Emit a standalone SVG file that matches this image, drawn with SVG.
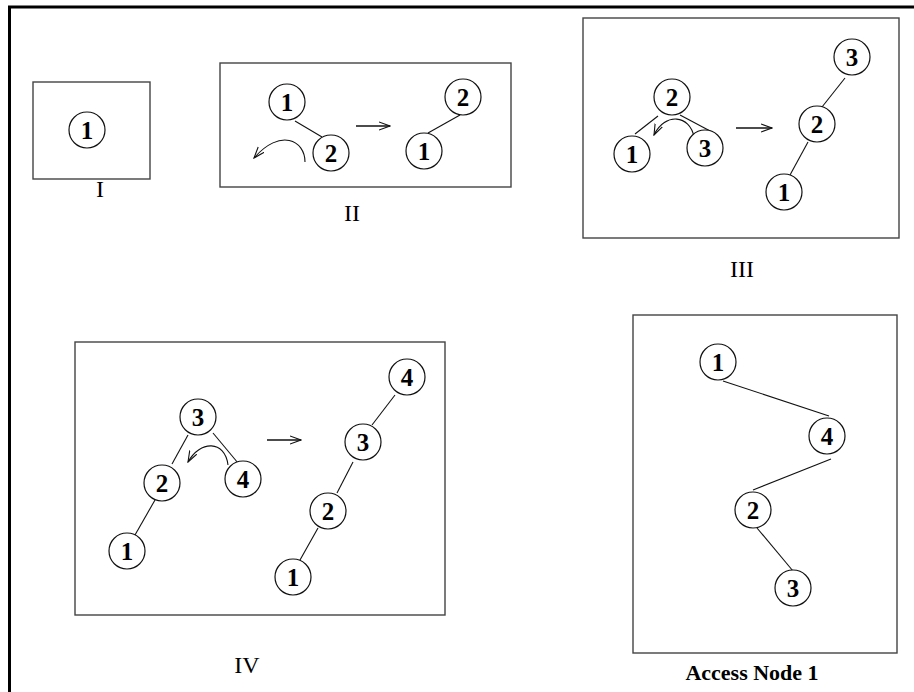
<svg xmlns="http://www.w3.org/2000/svg" width="914" height="692" viewBox="0 0 914 692">
  <style>
    .frame { fill: none; stroke: #000; stroke-width: 3; }
    .panel { fill: none; stroke: #444; stroke-width: 1.4; }
    .node circle { fill: #fff; stroke: #111; stroke-width: 1.2; }
    .node text { font-family: "Liberation Serif", "Times New Roman", serif; font-weight: bold; font-size: 25px; text-anchor: middle; fill: #000; }
    .edge { stroke: #111; stroke-width: 1.1; fill: none; }
    .rot { stroke: #111; stroke-width: 1.1; fill: none; marker-end: url(#open); }
    .step { stroke: #111; stroke-width: 1.3; fill: none; marker-end: url(#open); }
    .caption { font-family: "Liberation Serif", "Times New Roman", serif; font-size: 24px; text-anchor: middle; fill: #000; }
    .caption.bold { font-weight: bold; font-size: 22px; }
  </style>
  <defs>
    <marker id="open" viewBox="0 0 12 10" refX="11" refY="5" markerWidth="12" markerHeight="10" markerUnits="userSpaceOnUse" orient="auto">
      <path d="M0,1 L11,5 L0,9" fill="none" stroke="#111" stroke-width="1.1"/>
    </marker>
  </defs>

  <rect width="914" height="692" fill="#fff"/>
  <!-- outer frame: left and top edges only -->
  <path class="frame" d="M9.5,692 V7 H914"/>

  <!-- panel boxes -->
  <g id="panels">
    <rect class="panel" x="33" y="82" width="117" height="97"/>
    <rect class="panel" x="220" y="63" width="291" height="124"/>
    <rect class="panel" x="583" y="18" width="316" height="220"/>
    <rect class="panel" x="75" y="342" width="370" height="273"/>
    <rect class="panel" x="633" y="315" width="264" height="338"/>
  </g>

  <!-- connectors: tree edges, rotation arcs and step arrows -->
  <g id="connectors">
    <!-- II -->
    <line class="edge" x1="295" y1="121" x2="322" y2="137"/>
    <line class="edge" x1="428" y1="133" x2="460" y2="115"/>
    <path class="rot" d="M305,162 C305,140 280,128 254,158"/>
    <line class="step" x1="356" y1="126" x2="390" y2="126"/>
    <!-- III -->
    <line class="edge" x1="658" y1="116" x2="635" y2="134"/>
    <line class="edge" x1="680" y1="115" x2="712" y2="132"/>
    <path class="rot" d="M694,137 C690,115 665,112 654,135"/>
    <line class="step" x1="736" y1="128" x2="772" y2="128"/>
    <line class="edge" x1="845" y1="78" x2="822" y2="107"/>
    <line class="edge" x1="808" y1="142" x2="790" y2="175"/>
    <!-- IV -->
    <line class="edge" x1="188" y1="435" x2="172" y2="464"/>
    <line class="edge" x1="155" y1="500" x2="135" y2="535"/>
    <line class="edge" x1="213" y1="433" x2="238" y2="463"/>
    <path class="rot" d="M228,465 C225,440 200,440 188,462"/>
    <line class="step" x1="267" y1="440" x2="301" y2="440"/>
    <line class="edge" x1="395" y1="395" x2="372" y2="425"/>
    <line class="edge" x1="353" y1="462" x2="337" y2="493"/>
    <line class="edge" x1="318" y1="528" x2="300" y2="560"/>
    <!-- Access Node 1 -->
    <line class="edge" x1="723" y1="381" x2="829" y2="416"/>
    <line class="edge" x1="831" y1="459" x2="753" y2="490"/>
    <line class="edge" x1="757" y1="528" x2="793" y2="571"/>
  </g>

  <!-- I -->
  <g id="p1-n1" class="node"><circle cx="87" cy="130" r="18"/><text x="87" y="138.5">1</text></g>

  <!-- II -->
  <g id="p2-a-n1" class="node"><circle cx="287" cy="102" r="18"/><text x="287" y="110.5">1</text></g>
  <g id="p2-a-n2" class="node"><circle cx="331" cy="153" r="18"/><text x="331" y="161.5">2</text></g>
  <g id="p2-b-n2" class="node"><circle cx="463" cy="97" r="18"/><text x="463" y="105.5">2</text></g>
  <g id="p2-b-n1" class="node"><circle cx="424" cy="151" r="18"/><text x="424" y="159.5">1</text></g>

  <!-- III -->
  <g id="p3-a-n2" class="node"><circle cx="672" cy="97" r="18"/><text x="672" y="105.5">2</text></g>
  <g id="p3-a-n1" class="node"><circle cx="632" cy="154" r="18"/><text x="632" y="162.5">1</text></g>
  <g id="p3-a-n3" class="node"><circle cx="705" cy="148" r="18"/><text x="705" y="156.5">3</text></g>
  <g id="p3-b-n3" class="node"><circle cx="852" cy="57" r="18"/><text x="852" y="65.5">3</text></g>
  <g id="p3-b-n2" class="node"><circle cx="817" cy="124" r="18"/><text x="817" y="132.5">2</text></g>
  <g id="p3-b-n1" class="node"><circle cx="784" cy="192" r="18"/><text x="784" y="200.5">1</text></g>

  <!-- IV -->
  <g id="p4-a-n3" class="node"><circle cx="198" cy="417" r="18"/><text x="198" y="425.5">3</text></g>
  <g id="p4-a-n2" class="node"><circle cx="162" cy="483" r="18"/><text x="162" y="491.5">2</text></g>
  <g id="p4-a-n1" class="node"><circle cx="127" cy="551" r="18"/><text x="127" y="559.5">1</text></g>
  <g id="p4-a-n4" class="node"><circle cx="243" cy="479" r="18"/><text x="243" y="487.5">4</text></g>
  <g id="p4-b-n4" class="node"><circle cx="407" cy="377" r="18"/><text x="407" y="385.5">4</text></g>
  <g id="p4-b-n3" class="node"><circle cx="363" cy="442" r="18"/><text x="363" y="450.5">3</text></g>
  <g id="p4-b-n2" class="node"><circle cx="328" cy="511" r="18"/><text x="328" y="519.5">2</text></g>
  <g id="p4-b-n1" class="node"><circle cx="293" cy="577" r="18"/><text x="293" y="585.5">1</text></g>

  <!-- Access Node 1 -->
  <g id="p5-n1" class="node"><circle cx="718" cy="362" r="18"/><text x="718" y="370.5">1</text></g>
  <g id="p5-n4" class="node"><circle cx="827" cy="436" r="18"/><text x="827" y="444.5">4</text></g>
  <g id="p5-n2" class="node"><circle cx="753" cy="510" r="18"/><text x="753" y="518.5">2</text></g>
  <g id="p5-n3" class="node"><circle cx="793" cy="588" r="18"/><text x="793" y="596.5">3</text></g>

  <!-- captions -->
  <g id="captions">
    <text class="caption" x="100" y="197">I</text>
    <text class="caption" x="352" y="221">II</text>
    <text class="caption" x="742" y="277">III</text>
    <text class="caption" x="247" y="673">IV</text>
    <text class="caption bold" x="752" y="680">Access Node 1</text>
  </g>
</svg>
